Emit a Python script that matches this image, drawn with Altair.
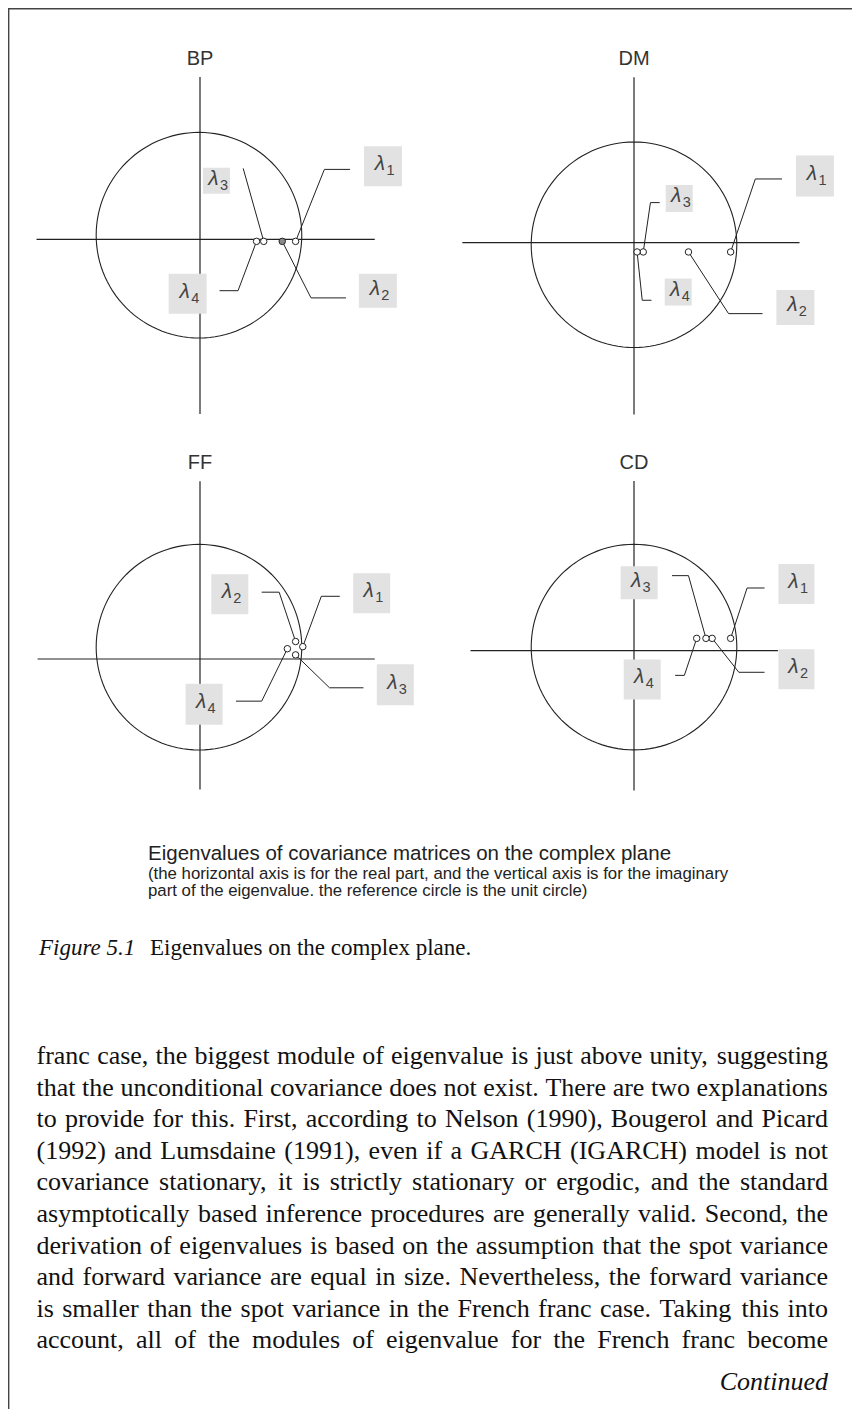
import altair as alt
import numpy as np
import pandas as pd

# ---------------- data ----------------
PANELS = ["BP", "DM", "FF", "CD"]
SUBSCRIPTS = ["1", "2", "3", "4"]

# eigenvalues lambda1..lambda4 on the complex plane (real, imaginary)
BP_REAL = [0.93, 0.80, 0.62, 0.55]
BP_IMAG = [-0.02, -0.02, -0.02, -0.02]
DM_REAL = [0.94, 0.53, 0.09, 0.03]
DM_IMAG = [-0.09, -0.09, -0.09, -0.09]
FF_REAL = [1.00, 0.93, 0.93, 0.85]
FF_IMAG = [0.12, 0.17, 0.04, 0.10]
CD_REAL = [0.94, 0.76, 0.70, 0.61]
CD_IMAG = [0.12, 0.12, 0.12, 0.12]
GREY_POINT = ("BP", "2")

# label annotations in complex-plane units: box centre, leader start, leader elbow
BP_BOX = [(1.78, 0.71), (1.73, -0.50), (0.16, 0.57), (-0.12, -0.53)]
BP_START = [(1.46, 0.68), (1.42, -0.57), (0.42, 0.69), (0.19, -0.50)]
BP_ELBOW = [(1.21, 0.68), (1.08, -0.57), (0.42, 0.69), (0.37, -0.50)]
DM_BOX = [(1.76, 0.65), (1.57, -0.63), (0.44, 0.43), (0.43, -0.48)]
DM_START = [(1.44, 0.62), (1.25, -0.69), (0.25, 0.39), (0.17, -0.56)]
DM_ELBOW = [(1.18, 0.62), (0.92, -0.69), (0.16, 0.39), (0.08, -0.56)]
FF_BOX = [(1.67, 0.64), (0.29, 0.63), (1.90, -0.25), (0.04, -0.44)]
FF_START = [(1.36, 0.61), (0.60, 0.65), (1.59, -0.28), (0.35, -0.41)]
FF_ELBOW = [(1.18, 0.61), (0.77, 0.65), (1.26, -0.28), (0.60, -0.41)]
CD_BOX = [(1.58, 0.65), (1.58, -0.18), (0.05, 0.66), (0.08, -0.28)]
CD_START = [(1.27, 0.61), (1.27, -0.21), (0.37, 0.73), (0.40, -0.24)]
CD_ELBOW = [(1.10, 0.61), (1.02, -0.21), (0.53, 0.73), (0.49, -0.24)]

# axis extents and circle centre (complex-plane units)
AXIS_H = [(-1.59, 1.70), (-1.67, 1.61), (-1.58, 1.70), (-1.59, 1.40)]
AXIS_V = [(-1.70, 1.58), (-1.67, 1.61), (-1.27, 1.73), (-1.36, 1.65)]
CIRCLE_CENTRE = [(-0.01, 0.04), (0.0, -0.02), (-0.01, 0.115), (0.0, 0.035)]

CAPTION = [
    "Eigenvalues of covariance matrices on the complex plane",
    "(the horizontal axis is for the real part, and the vertical axis is for the imaginary",
    "part of the eigenvalue. the reference circle is the unit circle)",
]
FIG_LABEL = "Figure 5.1"
FIG_TITLE = "Eigenvalues on the complex plane."
BODY = [
    "franc case, the biggest module of eigenvalue is just above unity, suggesting",
    "that the unconditional covariance does not exist. There are two explanations",
    "to provide for this. First, according to Nelson (1990), Bougerol and Picard",
    "(1992) and Lumsdaine (1991), even if a GARCH (IGARCH) model is not",
    "covariance stationary, it is strictly stationary or ergodic, and the standard",
    "asymptotically based inference procedures are generally valid. Second, the",
    "derivation of eigenvalues is based on the assumption that the spot variance",
    "and forward variance are equal in size. Nevertheless, the forward variance",
    "is smaller than the spot variance in the French franc case. Taking this into",
    "account, all of the modules of eigenvalue for the French franc become",
]
CONTINUED = "Continued"

# ---------------- layout (page pixels) ----------------
W, H = 844, 1401
PANEL_X = [200, 634, 200, 634]
PANEL_Y = [239.3, 242.7, 659.0, 650.7]
UNIT = 102.8
BOX_SIZE = {
    "BP": [(38, 40), (38, 34), (27, 26), (38, 40)],
    "DM": [(38, 41), (38, 35), (27, 27), (27, 27)],
    "FF": [(37, 40), (37, 40), (37, 41), (37, 41)],
    "CD": [(36, 40), (36, 40), (37, 33), (37, 40)],
}
BODY_LEFT, BODY_RIGHT = 36.5, 828.0
BODY_SIZE = 26
BODY_TOP, BODY_LEAD = 1064.0, 31.6

# Times (Liberation Serif) advance widths, 1/1000 em, for justifying the body text
TIMES_W = dict(zip(
    " !\"#$%&'()*+,-./0123456789:;<=>?@",
    [250, 333, 408, 500, 500, 833, 778, 333, 333, 333, 500, 564, 250, 333, 250, 278]
    + [500] * 10 + [278, 278, 564, 564, 564, 444, 921]))
TIMES_W.update(dict(zip(
    "ABCDEFGHIJKLMNOPQRSTUVWXYZ",
    [722, 667, 667, 722, 611, 556, 722, 722, 333, 389, 722, 611, 889, 722, 722, 556,
     722, 667, 556, 611, 722, 722, 944, 722, 722, 611])))
TIMES_W.update(dict(zip(
    "abcdefghijklmnopqrstuvwxyz",
    [444, 500, 444, 500, 444, 333, 500, 500, 278, 278, 500, 278, 778, 500, 500, 500,
     500, 333, 389, 278, 500, 500, 722, 500, 500, 444])))

REAL = {"BP": BP_REAL, "DM": DM_REAL, "FF": FF_REAL, "CD": CD_REAL}
IMAG = {"BP": BP_IMAG, "DM": DM_IMAG, "FF": FF_IMAG, "CD": CD_IMAG}
BOX = {"BP": BP_BOX, "DM": DM_BOX, "FF": FF_BOX, "CD": CD_BOX}
START = {"BP": BP_START, "DM": DM_START, "FF": FF_START, "CD": CD_START}
ELBOW = {"BP": BP_ELBOW, "DM": DM_ELBOW, "FF": FF_ELBOW, "CD": CD_ELBOW}


def px(i, re):
    return PANEL_X[i] + re * UNIT


def py(i, im):
    return PANEL_Y[i] - im * UNIT


pts, lead, boxes, axes, circ, titles = [], [], [], [], [], []
for i, p in enumerate(PANELS):
    for j, s in enumerate(SUBSCRIPTS):
        re, im = REAL[p][j], IMAG[p][j]
        pts.append(dict(panel=p, lam=s, x=px(i, re), y=py(i, im),
                        fill="#8a8a8a" if (p, s) == GREY_POINT else "white"))
        for k, (a, b) in enumerate([START[p][j], ELBOW[p][j], (re, im)]):
            lead.append(dict(key=p + s, seq=k, x=px(i, a), y=py(i, b)))
        bw, bh = BOX_SIZE[p][j]
        cx, cy = px(i, BOX[p][j][0]), py(i, BOX[p][j][1])
        boxes.append(dict(x=cx - bw / 2, x2=cx + bw / 2, y=cy - bh / 2, y2=cy + bh / 2,
                          cx=cx, cy=cy, lam="\u03bb", sub=s))
    h0, h1 = AXIS_H[i]
    v0, v1 = AXIS_V[i]
    axes.append(dict(x=px(i, h0), x2=px(i, h1), y=py(i, 0), y2=py(i, 0)))
    axes.append(dict(x=px(i, 0), x2=px(i, 0), y=py(i, v1), y2=py(i, v0)))
    c0, c1 = CIRCLE_CENTRE[i]
    for t in range(0, 361, 3):
        a = np.deg2rad(t)
        circ.append(dict(panel=p, t=t, x=px(i, c0 + np.cos(a)), y=py(i, c1 + np.sin(a))))
    titles.append(dict(text=p, x=PANEL_X[i], y=py(i, v1) - 18))

# justified body text: one text item per word
words = []
for li, line in enumerate(BODY):
    toks = line.split(" ")
    widths = [sum(TIMES_W.get(c, 500) for c in w) * BODY_SIZE / 1000 for w in toks]
    gap = (BODY_RIGHT - BODY_LEFT - sum(widths)) / (len(toks) - 1)
    xcur = BODY_LEFT
    for w, wd in zip(toks, widths):
        words.append(dict(text=w, x=xcur, y=BODY_TOP + li * BODY_LEAD))
        xcur += wd + gap

XS = alt.Scale(domain=[8, 8 + W], nice=False, zero=False)
YS = alt.Scale(domain=[8 + H, 8], nice=False, zero=False)


def X(f="x"):
    return alt.X(f"{f}:Q", scale=XS, axis=None)


def Y(f="y"):
    return alt.Y(f"{f}:Q", scale=YS, axis=None)


INK = "#222222"

border_top = alt.Chart(pd.DataFrame({"x": [8], "x2": [8 + W], "y": [8.7]})).mark_rule(
    color="#444", strokeWidth=1.4).encode(x=X(), x2="x2:Q", y=Y())
border_left = alt.Chart(pd.DataFrame({"x": [8.7], "y": [8], "y2": [8 + H]})).mark_rule(
    color="#444", strokeWidth=1.4).encode(x=X(), y=Y(), y2="y2:Q")

axes_l = alt.Chart(pd.DataFrame(axes)).mark_rule(color=INK, strokeWidth=1.2).encode(
    x=X(), x2="x2:Q", y=Y(), y2="y2:Q")

circle_l = alt.Chart(pd.DataFrame(circ)).mark_line(color=INK, strokeWidth=1.1).encode(
    x=X(), y=Y(), detail="panel:N", order="t:Q")

lead_l = alt.Chart(pd.DataFrame(lead)).mark_line(color=INK, strokeWidth=1.0).encode(
    x=X(), y=Y(), detail="key:N", order="seq:Q")

bdf = pd.DataFrame(boxes)
box_l = alt.Chart(bdf).mark_rect(color="#e2e2e2").encode(
    x=X(), x2="x2:Q", y=Y(), y2="y2:Q")
lam_l = alt.Chart(bdf).mark_text(
    font="Liberation Sans", fontSize=21, fontStyle="italic", color="#444",
    align="center", baseline="middle", dx=-3, dy=-2).encode(x=X("cx"), y=Y("cy"), text="lam:N")
sub_l = alt.Chart(bdf).mark_text(
    font="Liberation Sans", fontSize=14.5, color="#444",
    align="center", baseline="middle", dx=7.5, dy=5).encode(x=X("cx"), y=Y("cy"), text="sub:N")

pts_l = alt.Chart(pd.DataFrame(pts)).mark_point(
    shape="circle", filled=True, size=42, stroke=INK, strokeWidth=1, opacity=1).encode(
    x=X(), y=Y(), fill=alt.Fill("fill:N", scale=None))

title_l = alt.Chart(pd.DataFrame(titles)).mark_text(
    font="Liberation Sans", fontSize=20, color="#333", align="center", baseline="middle").encode(
    x=X(), y=Y(), text="text:N")

cap_df = pd.DataFrame({"text": CAPTION, "x": [148, 148, 148], "y": [860, 879, 896],
                       "size": [20.5, 16.8, 16.8]})
cap_l = alt.Chart(cap_df).mark_text(
    font="Liberation Sans", color="#222", align="left", baseline="alphabetic").encode(
    x=X(), y=Y(), text="text:N", size=alt.Size("size:Q", scale=None))

fig_lab = alt.Chart(pd.DataFrame({"text": [FIG_LABEL], "x": [39], "y": [955]})).mark_text(
    font="Liberation Serif", fontSize=23, fontStyle="italic", color="#111",
    align="left", baseline="alphabetic").encode(x=X(), y=Y(), text="text:N")
fig_tit = alt.Chart(pd.DataFrame({"text": [FIG_TITLE], "x": [150], "y": [955]})).mark_text(
    font="Liberation Serif", fontSize=23, color="#111",
    align="left", baseline="alphabetic").encode(x=X(), y=Y(), text="text:N")

body_l = alt.Chart(pd.DataFrame(words)).mark_text(
    font="Liberation Serif", fontSize=BODY_SIZE, color="#111",
    align="left", baseline="alphabetic").encode(x=X(), y=Y(), text="text:N")
cont_l = alt.Chart(pd.DataFrame({"text": [CONTINUED], "x": [BODY_RIGHT], "y": [1390]})).mark_text(
    font="Liberation Serif", fontSize=BODY_SIZE, fontStyle="italic", color="#111",
    align="right", baseline="alphabetic").encode(x=X(), y=Y(), text="text:N")

chart = alt.layer(
    border_top, border_left, axes_l, circle_l, lead_l, box_l, lam_l, sub_l, pts_l,
    title_l, cap_l, fig_lab, fig_tit, body_l, cont_l,
).properties(
    width=W, height=H, autosize="none", padding=0, background="white"
).configure_view(stroke=None)

chart.save("out.html", embed_options={"renderer": "svg", "actions": False})
